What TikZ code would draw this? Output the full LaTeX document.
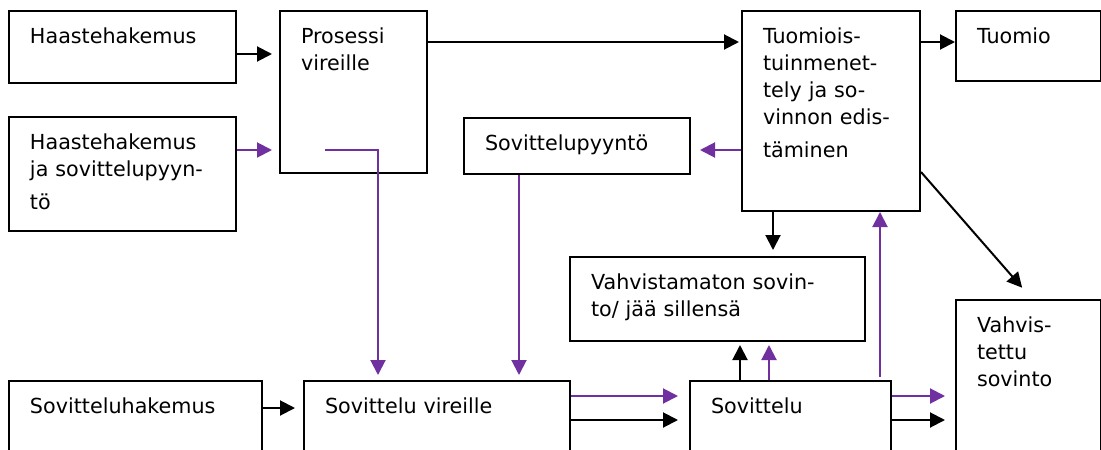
\documentclass[tikz,border=0pt]{standalone}
\usepackage{fontspec}
\setmainfont{DejaVu Sans}
\usetikzlibrary{arrows.meta}
\definecolor{sovpurple}{HTML}{7030A0}

\tikzset{
	stage/.style={draw, line width=2pt, anchor=north west, align=left,
		inner xsep=21pt, inner ysep=0pt, text height=32pt,
		font=\fontsize{20.7}{27}\selectfont},
	blk/.style={draw=black, line width=2pt, -{Triangle[length=15pt,width=15pt]}},
	prp/.style={draw=sovpurple, line width=2pt, -{Triangle[length=15pt,width=15pt]}, color=sovpurple}
}

\begin{document}
\begin{tikzpicture}[x=1pt,y=-1pt]
	\useasboundingbox (0,0) rectangle (1101,450);
	\clip (0,0) rectangle (1101,450);

	%BOXES
	\node[stage, minimum width=227pt, minimum height=72pt, text width=185pt, text depth=40pt] (hh) at (8,10) {Haastehakemus};
	\node[stage, minimum width=227pt, minimum height=114pt, text width=185pt, text depth=82pt] (hjs) at (8,116) {Haastehakemus\\ja sovittelupyyn-\\[6pt]tö};
	\node[stage, minimum width=147pt, minimum height=162pt, text width=105pt, text depth=130pt] (pv) at (279,10) {Prosessi\\vireille};
	\node[stage, minimum width=226pt, minimum height=56pt, text width=184pt, text depth=24pt] (spy) at (463,117) {Sovittelupyyntö};
	\node[stage, minimum width=178pt, minimum height=200pt, text width=136pt, text depth=168pt] (tim) at (741,10) {Tuomiois-\\tuinmenet-\\tely ja so-\\vinnon edis-\\[6pt]täminen};
	\node[stage, minimum width=145pt, minimum height=70pt, text width=103pt, text depth=38pt] (tuo) at (955,10) {Tuomio};
	\node[stage, minimum width=295pt, minimum height=84pt, text width=253pt, text depth=52pt] (vs) at (569,256) {Vahvistamaton sovin-\\to/ jää sillensä};
	\node[stage, minimum width=145pt, minimum height=200pt, text width=103pt, text depth=168pt] (vsov) at (955,299) {Vahvis-\\tettu\\sovinto};
	\node[stage, minimum width=253pt, minimum height=100pt, text width=211pt, text depth=68pt] (shak) at (8,380) {Sovitteluhakemus};
	\node[stage, minimum width=266pt, minimum height=100pt, text width=224pt, text depth=68pt] (svir) at (303,380) {Sovittelu vireille};
	\node[stage, minimum width=201pt, minimum height=100pt, text width=159pt, text depth=68pt] (sov) at (689,380) {Sovittelu};

	%TOP ROW
	\draw[blk, shorten >=7pt] ([yshift=-44pt]hh.north east) -- ([yshift=-44pt]hh.north east -| pv.west);
	\draw[prp, shorten >=7pt] ([yshift=-34pt]hjs.north east) -- ([yshift=-34pt]hjs.north east -| pv.west);
	\draw[blk, shorten >=2pt] ([yshift=-32pt]pv.north east) -- ([yshift=-32pt]pv.north east -| tim.west);
	\draw[blk] ([yshift=-32pt]tim.north east) -- ([yshift=-32pt]tim.north east -| tuo.west);
	\draw[prp, shorten >=9pt] ([yshift=-140pt]tim.north west) -- ([yshift=-140pt]tim.north west -| spy.east);

	%DOWN TO SOVITTELU VIREILLE
	\draw[prp, shorten >=5pt] ([xshift=46pt,yshift=-140pt]pv.north west) -| ([xshift=75pt]svir.north west);
	\draw[prp, shorten >=5pt] ([xshift=56pt]spy.south west) -- ([xshift=56pt]spy.south west |- svir.north);

	%TUOMIOISTUIN
	\draw[blk, shorten >=6pt] ([xshift=32pt]tim.south west) -- ([xshift=32pt]tim.south west |- vs.north);
	\draw[blk, shorten >=15pt] ([yshift=-162pt]tim.north east) -- ([xshift=77pt]vsov.north west);

	%SOVITTELU
	\draw[prp] ([xshift=191pt,yshift=3pt]sov.north west) -- ([xshift=191pt]sov.north west |- tim.south);
	\draw[blk, shorten >=3pt] ([xshift=51pt]sov.north west) -- ([xshift=51pt]sov.north west |- vs.south);
	\draw[prp, shorten >=3pt] ([xshift=80pt]sov.north west) -- ([xshift=80pt]sov.north west |- vs.south);

	%BOTTOM ROW
	\draw[blk, shorten >=8pt] ([yshift=-28pt]shak.north east) -- ([yshift=-28pt]shak.north east -| svir.west);
	\draw[prp, shorten >=11pt] ([yshift=-16pt]svir.north east) -- ([yshift=-16pt]svir.north east -| sov.west);
	\draw[blk, shorten >=11pt] ([yshift=-40pt]svir.north east) -- ([yshift=-40pt]svir.north east -| sov.west);
	\draw[prp, shorten >=10pt] ([yshift=-16pt]sov.north east) -- ([yshift=-16pt]sov.north east -| vsov.west);
	\draw[blk, shorten >=10pt] ([yshift=-40pt]sov.north east) -- ([yshift=-40pt]sov.north east -| vsov.west);
\end{tikzpicture}
\end{document}
